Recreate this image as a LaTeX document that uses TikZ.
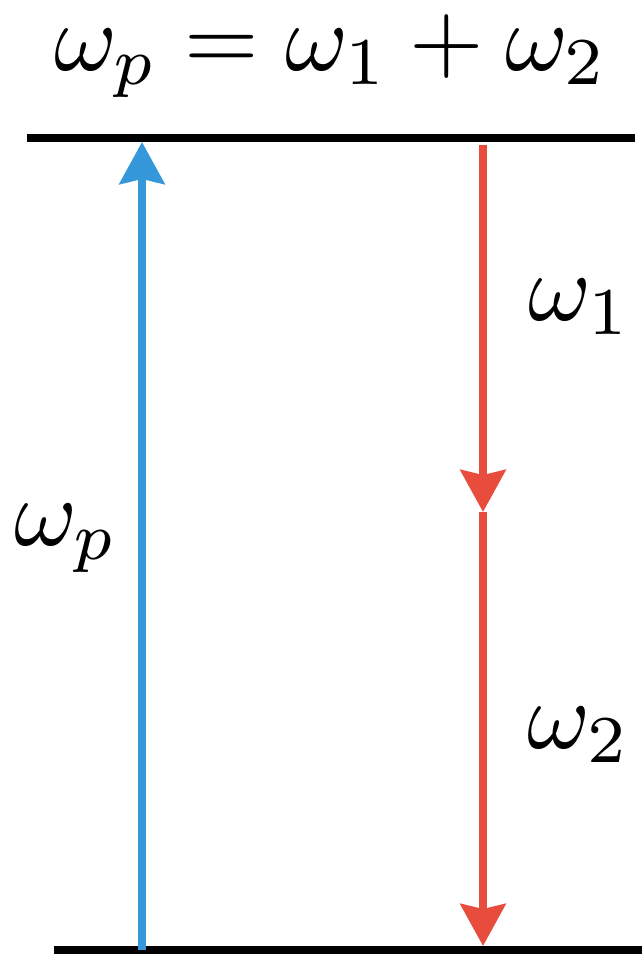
\documentclass[tikz,border=0pt]{standalone}
\usepackage{amsmath,amssymb}
\usepackage{xcolor}
\usepackage{tikz}
\usetikzlibrary{arrows.meta,positioning}

\definecolor{pumpblue}{RGB}{52,152,219}
\definecolor{sigred}{RGB}{231,76,60}

\begin{document}
\begin{tikzpicture}[x=0.02cm, y=-0.02cm]
\tikzstyle{level} = [line width=4pt, black]
\tikzstyle{photon} = [line width=4.4pt, -{Stealth[length=0.84cm, width=0.9cm, inset=0.1cm]}]
\tikzstyle{freq} = [anchor=base, inner sep=0pt, scale=5.45]

\useasboundingbox (0,0) rectangle (642,954);

% energy levels
\coordinate (topL) at (27,138);
\coordinate (topR) at (635,138);
\coordinate (botL) at (54,950);
\coordinate (botR) at (642,950);
\draw[level] (topL) -- (topR);
\draw[level] (botL) -- (botR);

% pump and down conversion
\coordinate (pumpS) at (142,950);
\coordinate (pumpE) at (142,142);
\coordinate (sigS) at (483,145);
\coordinate (sigM) at (483,512);
\coordinate (sigE) at (483,946);
\draw[photon, pumpblue] (pumpS) -- (pumpE);
\draw[photon, sigred] (sigS) -- (sigM);
\draw[photon, sigred] (sigM) -- (sigE);

% labels
\node[freq] (eq) at (331,70) {$\omega_p = \omega_1 + \omega_2$};
\node[freq] (w1) at (580,320) {$\omega_1$};
\node[freq] (w2) at (579,748) {$\omega_2$};
\node[freq] (wp) at (66,545) {$\omega_p$};
\end{tikzpicture}
\end{document}
